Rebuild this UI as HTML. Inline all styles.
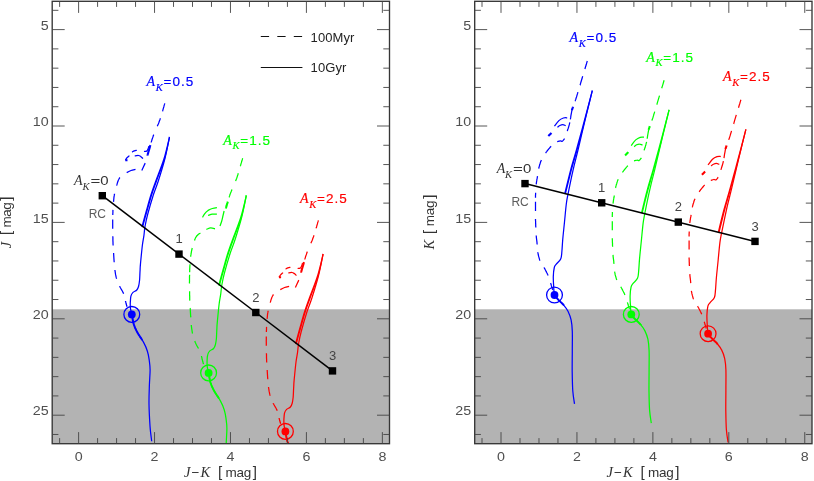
<!DOCTYPE html>
<html><head><meta charset="utf-8"><title>CMD</title>
<style>html,body{margin:0;padding:0;background:#fff;}svg{display:block;will-change:transform;}text{font-family:"Liberation Sans",sans-serif;}.it{font-family:"Liberation Serif",serif;font-style:italic;}</style></head><body>
<svg width="814" height="481" viewBox="0 0 814 481">
<rect x="0" y="0" width="814" height="481" fill="#fff"/>
<defs><clipPath id="cl"><rect x="52.2" y="1.3" width="337.3" height="442.4"/></clipPath><clipPath id="cr"><rect x="474.7" y="1.3" width="337.3" height="442.4"/></clipPath></defs>
<rect x="52.2" y="309.3" width="337.3" height="134.4" fill="#b3b3b3"/>
<g clip-path="url(#cl)" fill="none" stroke-width="1.25" stroke-linecap="butt" stroke-linejoin="round">
<g stroke="#0000ff">
<path d="M116.6,185.6L116.8,185.0L117.0,184.3L117.2,183.6L117.4,182.9L117.6,182.2L117.9,181.6L118.1,180.9L118.3,180.3L118.6,179.7L118.8,179.1L119.2,178.6L119.5,178.0L119.9,177.5L119.9,177.5M113.5,201.8L113.6,201.0L113.7,200.0L113.8,199.0L113.9,197.9L114.0,196.9L114.2,195.9L114.3,195.0L114.5,194.1L114.5,193.7M112.8,214.9L112.8,213.9L112.9,212.8L112.9,211.7L112.9,210.6L113.0,209.9M112.7,228.7L112.7,228.6L112.7,227.6L112.7,226.7L112.7,226.0L112.7,225.3L112.7,224.6L112.7,224.0L112.7,223.4L112.7,222.8L112.7,222.2L112.7,221.5L112.7,220.7L112.7,219.9L112.7,219.4M113.1,245.5L113.1,245.0L113.0,243.5L113.0,242.1L112.9,240.6L112.9,239.1L112.9,237.6L112.8,236.2M114.2,262.2L114.1,261.2L114.0,259.8L113.9,258.2L113.8,256.6L113.7,254.9L113.6,253.2L113.6,253.0M116.6,278.7L116.4,278.1L116.2,277.4L116.1,276.8L115.9,276.1L115.8,275.4L115.6,274.7L115.5,274.0L115.4,273.3L115.3,272.6L115.2,271.9L115.1,271.3L115.0,270.6L114.9,270.0L114.9,270.0M123.6,293.7L123.6,293.7L123.3,293.0L123.0,292.4L122.7,291.7L122.3,291.0L121.9,290.3L121.5,289.7L121.1,289.0L120.7,288.3L120.3,287.6L120.0,286.9L119.6,286.3L119.6,286.2M127.1,306.8L126.9,306.3L126.7,305.8L126.6,305.3L126.4,304.8L126.3,304.3L126.2,303.8L126.0,303.3L125.9,302.8L125.8,302.3L125.7,301.8L125.5,301.2L125.5,301.1M162.5,111.3L162.6,111.2L163.0,109.7L163.4,108.2L163.8,106.9L164.1,105.6L164.5,104.4L164.8,103.3L164.8,103.3M157.3,126.2L157.7,125.3L158.3,124.0L158.8,122.7L159.3,121.3L159.8,120.0L160.3,118.6L160.4,118.3M151.2,142.5L151.3,141.9L151.6,141.1L151.8,140.3L152.0,139.5L152.3,138.7L152.6,137.9L152.9,137.0L153.2,136.0L153.6,135.0L153.8,134.6M144.0,151.5C144.4,151.4 145.9,151.5 146.6,151.1C147.3,150.7 147.6,149.8 148.0,149.0C148.4,148.2 148.8,146.7 148.9,146.2M132.0,152.1C132.4,151.9 133.5,151.2 134.3,150.9C135.1,150.6 136.4,150.4 136.8,150.3M125.5,160.0C125.8,159.6 126.3,158.5 127.0,157.8C127.7,157.1 129.0,156.0 129.4,155.6M134.7,156.0C135.3,155.9 137.4,155.4 138.4,155.5C139.4,155.6 140.1,156.1 140.8,156.6C141.6,157.1 142.6,158.3 142.9,158.6M145.2,163.1C144.6,164.3 142.4,169.3 141.8,170.5M135.5,169.3C134.8,169.5 132.5,169.9 131.0,170.5C129.5,171.1 127.4,172.2 126.7,172.6"/>
<path d="M147.4,155.6L147.5,155.1L147.7,154.5L147.9,153.7L148.2,152.9L148.4,151.9L148.7,151.0L149.0,150.0L149.3,149.0L149.6,147.9L149.9,146.9L150.1,146.0L150.4,145.1L150.4,145.1M125.3,160.3C125.7,160.3 127.1,160.2 127.5,160.2" stroke-width="2.1"/>
<path d="M151.7,441.2C151.4,438.7 150.4,432.2 150.0,426.0C149.6,419.8 149.1,410.9 149.0,404.1C148.9,397.3 149.2,390.7 149.4,385.0C149.6,379.3 150.1,374.1 150.1,369.9C150.1,365.7 149.6,363.0 149.2,359.9C148.8,356.8 148.3,354.1 147.4,351.2C146.5,348.3 145.3,345.5 143.6,342.4C141.9,339.3 139.1,335.6 137.4,332.5C135.7,329.4 134.5,326.7 133.6,323.7C132.7,320.7 132.3,316.8 131.8,314.3C131.3,311.8 130.8,310.7 130.5,308.7C130.2,306.7 130.2,304.5 130.3,302.4C130.4,300.3 130.5,297.9 130.9,296.2C131.3,294.5 132.0,293.4 133.0,292.4C134.0,291.4 135.9,291.0 136.8,290.0C137.7,289.0 138.1,287.9 138.6,286.2C139.1,284.5 139.3,282.7 139.6,280.0C139.8,277.3 139.9,272.7 140.1,270.0C140.2,267.3 140.1,267.8 140.5,263.6C140.9,259.4 141.8,249.8 142.4,245.0C143.0,240.2 143.6,238.1 144.0,235.0C144.4,231.9 144.4,229.9 145.0,226.6C145.6,223.3 146.1,220.3 147.5,215.0C148.9,209.7 151.5,200.7 153.3,195.0C155.1,189.3 156.4,187.0 158.3,181.0C160.2,175.0 162.9,166.3 164.8,159.0C166.7,151.7 168.7,140.7 169.5,137.0"/>
<path d="M142.2,340.0L142.2,340.0L141.6,339.1L141.1,338.3L140.5,337.4L139.9,336.6L139.4,335.8L138.8,334.9L138.3,334.1L137.8,333.3L137.4,332.5L137.0,331.7L136.6,331.0L136.2,330.2L135.9,329.5L135.5,328.8L135.2,328.1L134.9,327.4L134.6,326.6L134.4,325.9L134.1,325.2L133.8,324.5L133.6,323.7L133.4,322.9L133.2,322.1L133.0,321.3L132.8,320.5L132.7,319.6L132.5,318.8L132.4,318.0" stroke-width="1.9"/>
<path d="M141.9,227.0C142.6,224.3 144.8,216.3 146.3,211.0C147.8,205.7 149.3,200.0 150.9,195.0C152.5,190.0 153.6,187.0 155.8,181.0C158.0,175.0 161.6,166.3 163.9,159.0C166.2,151.7 168.6,140.7 169.5,137.0 M142.6,227.0C143.3,224.3 145.5,216.3 147.0,211.0C148.5,205.7 150.0,200.0 151.6,195.0C153.2,190.0 154.4,187.0 156.5,181.0C158.6,175.0 162.2,166.3 164.4,159.0C166.6,151.7 168.7,140.7 169.5,137.0" stroke-width="1.2"/>
<circle cx="131.8" cy="314.4" r="7.9" stroke-width="1.3"/>
<circle cx="131.8" cy="314.4" r="3.9" fill="#0000ff" stroke="none"/>
</g>
<g stroke="#00ff00">
<path d="M194.5,240.5L194.7,240.1L194.9,239.4L195.1,238.8L195.4,238.2L195.6,237.6L196.0,237.1L196.3,236.5L196.7,236.0L197.2,235.5L197.7,235.0L198.2,234.5L198.8,234.1L199.4,233.6L200.1,233.2L200.4,233.0M190.7,256.7L190.7,256.4L190.8,255.4L191.0,254.4L191.1,253.5L191.3,252.6L191.4,251.7L191.6,250.8L191.8,249.9L192.0,249.0L192.2,248.2L192.3,248.0M189.6,272.3L189.7,271.3L189.7,270.2L189.7,269.1L189.8,268.0L189.8,267.0L189.9,265.9L190.0,264.9L190.0,264.2M189.5,283.5L189.5,283.1L189.4,282.5L189.5,281.9L189.5,281.3L189.5,280.7L189.5,280.0L189.5,279.2L189.5,278.4L189.5,277.5L189.5,276.5L189.6,275.5L189.6,274.8M189.8,300.6L189.8,300.6L189.7,299.1L189.7,297.6L189.7,296.1L189.6,294.7L189.6,293.3L189.6,291.9L189.6,291.3M190.8,317.3L190.7,316.7L190.6,315.1L190.5,313.4L190.4,311.7L190.3,310.0L190.2,308.3L190.1,308.1M192.5,333.6L192.4,333.2L192.3,332.5L192.2,331.8L192.1,331.1L192.0,330.4L191.9,329.8L191.8,329.1L191.7,328.5L191.6,327.9L191.6,327.5L191.5,327.1L191.5,326.7L191.4,326.3L191.4,326.0L191.3,325.5L191.3,325.1L191.3,324.9M198.5,348.5L198.3,348.2L197.9,347.5L197.5,346.8L197.1,346.1L196.8,345.4L196.4,344.8L196.1,344.1L195.8,343.5L195.5,342.8L195.2,342.2L195.0,341.6L194.8,341.1M203.5,364.1L203.4,363.8L203.2,363.3L203.1,362.8L203.0,362.3L202.8,361.8L202.7,361.3L202.6,360.8L202.5,360.3L202.3,359.7L202.1,359.1L202.0,358.5L201.9,357.9L201.8,357.3L201.6,356.7L201.5,356.1L201.5,356.0M240.3,166.2L240.6,165.4L240.9,164.1L241.3,162.9L241.6,161.8L241.9,160.8L242.2,160.0L242.4,159.1L242.6,158.4L242.7,158.2M235.6,181.1L236.1,179.8L236.6,178.5L237.1,177.1L237.5,175.7L238.0,174.2L238.3,173.2M229.0,197.4L229.1,197.2L229.4,196.4L229.7,195.5L230.0,194.5L230.4,193.5L230.8,192.4L231.3,191.3L231.8,190.1L232.0,189.5M224.1,211.0C223.9,211.9 223.2,214.8 222.8,216.5C222.4,218.2 222.1,219.9 221.6,221.5C221.1,223.1 220.3,225.2 220.0,226.0M202.5,217.3C202.9,216.7 203.9,214.7 204.8,213.5C205.7,212.3 206.9,211.2 208.1,210.4C209.4,209.6 210.8,208.9 212.3,208.5C213.8,208.1 216.1,207.8 216.9,207.7M208.1,215.4C208.8,215.2 210.8,214.3 212.3,214.1C213.8,213.9 216.1,214.2 216.9,214.2M206.3,229.4C207.0,229.2 209.2,228.0 210.6,227.9C212.1,227.8 214.3,228.7 215.0,228.9"/>
<path d="M225.8,208.5L225.8,208.5L226.1,207.5L226.4,206.4L226.7,205.4L226.9,204.5L227.2,203.6L227.5,202.8L227.7,202.0L227.8,201.7" stroke-width="2.1"/>
<path d="M228.5,499.7C228.2,497.2 227.2,490.7 226.8,484.5C226.4,478.3 225.9,469.4 225.8,462.6C225.7,455.8 226.0,449.2 226.2,443.5C226.4,437.8 226.9,432.6 226.9,428.4C226.9,424.2 226.4,421.5 226.0,418.4C225.6,415.3 225.1,412.6 224.2,409.7C223.3,406.8 222.1,404.0 220.4,400.9C218.7,397.8 215.9,394.1 214.2,391.0C212.5,387.9 211.3,385.2 210.4,382.2C209.5,379.2 209.1,375.3 208.6,372.8C208.1,370.3 207.6,369.2 207.3,367.2C207.1,365.2 207.0,363.0 207.1,360.9C207.2,358.8 207.2,356.4 207.7,354.7C208.1,353.0 208.8,351.9 209.8,350.9C210.8,349.9 212.7,349.5 213.6,348.5C214.5,347.5 214.9,346.4 215.4,344.7C215.9,343.0 216.1,341.2 216.4,338.5C216.6,335.8 216.7,331.2 216.9,328.5C217.0,325.8 216.9,326.3 217.3,322.1C217.7,317.9 218.6,308.3 219.2,303.5C219.8,298.7 220.4,296.6 220.8,293.5C221.2,290.4 221.2,288.4 221.8,285.1C222.4,281.8 222.9,278.8 224.3,273.5C225.7,268.2 228.3,259.2 230.1,253.5C231.9,247.8 233.2,245.5 235.1,239.5C237.0,233.5 239.7,224.8 241.6,217.5C243.5,210.2 245.5,199.2 246.3,195.5"/>
<path d="M219.0,398.5L219.0,398.5L218.4,397.6L217.9,396.8L217.3,395.9L216.7,395.1L216.2,394.3L215.6,393.4L215.1,392.6L214.6,391.8L214.2,391.0L213.8,390.2L213.4,389.5L213.0,388.7L212.7,388.0L212.3,387.3L212.0,386.6L211.7,385.9L211.4,385.1L211.2,384.4L210.9,383.7L210.6,383.0L210.4,382.2L210.2,381.4L210.0,380.6L209.8,379.8L209.6,379.0L209.5,378.1L209.3,377.3L209.2,376.5" stroke-width="1.9"/>
<path d="M218.7,285.5C219.4,282.8 221.6,274.8 223.1,269.5C224.6,264.2 226.1,258.5 227.7,253.5C229.3,248.5 230.4,245.5 232.6,239.5C234.8,233.5 238.4,224.8 240.7,217.5C243.0,210.2 245.4,199.2 246.3,195.5 M219.4,285.5C220.1,282.8 222.3,274.8 223.8,269.5C225.3,264.2 226.8,258.5 228.4,253.5C230.0,248.5 231.2,245.5 233.3,239.5C235.4,233.5 239.0,224.8 241.2,217.5C243.4,210.2 245.5,199.2 246.3,195.5" stroke-width="1.2"/>
<circle cx="208.6" cy="372.9" r="7.9" stroke-width="1.3"/>
<circle cx="208.6" cy="372.9" r="3.9" fill="#00ff00" stroke="none"/>
</g>
<g stroke="#ff0000">
<path d="M270.2,302.6L270.4,302.0L270.6,301.3L270.8,300.6L271.0,299.9L271.2,299.2L271.5,298.6L271.7,297.9L271.9,297.3L272.2,296.7L272.4,296.1L272.8,295.6L273.1,295.0L273.5,294.5L273.5,294.5M267.1,318.8L267.2,318.0L267.3,317.0L267.4,316.0L267.5,314.9L267.6,313.9L267.8,312.9L267.9,312.0L268.1,311.1L268.1,310.7M266.4,331.9L266.4,330.9L266.5,329.8L266.5,328.7L266.5,327.6L266.6,326.9M266.3,345.7L266.3,345.6L266.3,344.6L266.3,343.7L266.3,343.0L266.3,342.3L266.3,341.6L266.2,341.0L266.3,340.4L266.3,339.8L266.3,339.2L266.3,338.5L266.3,337.7L266.3,336.9L266.3,336.4M266.7,362.5L266.7,362.0L266.6,360.5L266.6,359.1L266.5,357.6L266.5,356.1L266.5,354.6L266.4,353.2M267.8,379.2L267.7,378.2L267.6,376.8L267.5,375.2L267.4,373.6L267.3,371.9L267.2,370.2L267.2,370.0M270.2,395.7L270.0,395.1L269.8,394.4L269.7,393.8L269.5,393.1L269.4,392.4L269.2,391.7L269.1,391.0L269.0,390.3L268.9,389.6L268.8,388.9L268.7,388.3L268.6,387.6L268.5,387.0L268.5,387.0M277.2,410.7L277.2,410.7L276.9,410.0L276.6,409.4L276.3,408.7L275.9,408.0L275.5,407.3L275.1,406.7L274.7,406.0L274.3,405.3L273.9,404.6L273.6,403.9L273.2,403.3L273.2,403.2M280.7,423.8L280.5,423.3L280.3,422.8L280.2,422.3L280.0,421.8L279.9,421.3L279.8,420.8L279.6,420.3L279.5,419.8L279.4,419.3L279.3,418.8L279.1,418.2L279.1,418.1M316.1,228.3L316.1,228.2L316.6,226.7L317.0,225.2L317.4,223.9L317.7,222.6L318.1,221.4L318.4,220.3L318.4,220.3M310.9,243.2L311.3,242.3L311.9,241.0L312.4,239.7L312.9,238.3L313.4,237.0L313.9,235.6L314.0,235.3M304.8,259.5L304.9,258.9L305.2,258.1L305.4,257.3L305.6,256.5L305.9,255.7L306.2,254.9L306.5,254.0L306.8,253.0L307.2,252.0L307.4,251.6M297.6,268.5C298.0,268.4 299.5,268.5 300.2,268.1C300.9,267.7 301.2,266.8 301.6,266.0C302.0,265.2 302.4,263.7 302.5,263.2M285.6,269.1C286.0,268.9 287.1,268.2 287.9,267.9C288.7,267.6 290.0,267.4 290.4,267.3M279.1,277.0C279.4,276.6 280.0,275.5 280.6,274.8C281.2,274.1 282.6,273.0 283.0,272.6M288.3,273.0C288.9,272.9 291.0,272.4 292.0,272.5C293.0,272.6 293.6,273.1 294.4,273.6C295.1,274.1 296.1,275.3 296.5,275.6M298.8,280.1C298.2,281.3 296.0,286.3 295.4,287.5M289.1,286.3C288.4,286.5 286.1,286.9 284.6,287.5C283.1,288.1 281.0,289.2 280.3,289.6"/>
<path d="M301.0,272.6L301.1,272.1L301.3,271.5L301.5,270.7L301.8,269.9L302.0,268.9L302.3,268.0L302.6,267.0L302.9,266.0L303.2,264.9L303.5,263.9L303.7,263.0L304.0,262.1L304.0,262.1M278.9,277.3C279.3,277.3 280.7,277.2 281.1,277.2" stroke-width="2.1"/>
<path d="M305.3,558.2C305.0,555.7 304.1,549.2 303.6,543.0C303.2,536.8 302.7,527.9 302.6,521.1C302.5,514.3 302.8,507.7 303.0,502.0C303.2,496.3 303.7,491.1 303.7,486.9C303.7,482.7 303.2,480.0 302.8,476.9C302.3,473.8 301.9,471.1 301.0,468.2C300.1,465.3 298.9,462.5 297.2,459.4C295.5,456.3 292.7,452.6 291.0,449.5C289.3,446.4 288.1,443.7 287.2,440.7C286.3,437.7 285.9,433.8 285.4,431.3C284.9,428.8 284.4,427.7 284.1,425.7C283.9,423.7 283.8,421.5 283.9,419.4C284.0,417.3 284.1,414.9 284.5,413.2C284.9,411.5 285.6,410.4 286.6,409.4C287.6,408.4 289.5,408.0 290.4,407.0C291.3,406.0 291.7,404.9 292.2,403.2C292.7,401.5 292.9,399.7 293.2,397.0C293.4,394.3 293.5,389.7 293.7,387.0C293.9,384.3 293.7,384.8 294.1,380.6C294.5,376.4 295.4,366.8 296.0,362.0C296.6,357.2 297.2,355.1 297.6,352.0C298.0,348.9 298.0,346.9 298.6,343.6C299.2,340.3 299.7,337.3 301.1,332.0C302.5,326.7 305.1,317.7 306.9,312.0C308.7,306.3 310.0,304.0 311.9,298.0C313.8,292.0 316.5,283.3 318.4,276.0C320.3,268.7 322.3,257.7 323.1,254.0"/>
<path d="M295.8,457.0L295.8,457.0L295.2,456.1L294.7,455.3L294.1,454.4L293.5,453.6L293.0,452.8L292.4,451.9L291.9,451.1L291.4,450.3L291.0,449.5L290.6,448.7L290.2,448.0L289.8,447.2L289.5,446.5L289.1,445.8L288.8,445.1L288.5,444.4L288.2,443.6L288.0,442.9L287.7,442.2L287.4,441.5L287.2,440.7L287.0,439.9L286.8,439.1L286.6,438.3L286.4,437.5L286.3,436.6L286.1,435.8L286.0,435.0" stroke-width="1.9"/>
<path d="M295.5,344.0C296.2,341.3 298.4,333.3 299.9,328.0C301.4,322.7 302.9,317.0 304.5,312.0C306.1,307.0 307.2,304.0 309.4,298.0C311.6,292.0 315.2,283.3 317.5,276.0C319.8,268.7 322.2,257.7 323.1,254.0 M296.2,344.0C296.9,341.3 299.1,333.3 300.6,328.0C302.1,322.7 303.6,317.0 305.2,312.0C306.8,307.0 308.0,304.0 310.1,298.0C312.2,292.0 315.8,283.3 318.0,276.0C320.2,268.7 322.2,257.7 323.1,254.0" stroke-width="1.2"/>
<circle cx="285.4" cy="431.4" r="7.9" stroke-width="1.3"/>
<circle cx="285.4" cy="431.4" r="3.9" fill="#ff0000" stroke="none"/>
</g>
</g>
<path d="M102.3,195.7 L332.5,370.9" stroke="#000" stroke-width="1.5" fill="none"/>
<rect x="98.6" y="192.0" width="7.4" height="7.4" fill="#000"/>
<rect x="175.3" y="250.4" width="7.4" height="7.4" fill="#000"/>
<text x="179.0" y="243.4" font-size="13" fill="#444" text-anchor="middle">1</text>
<rect x="252.1" y="308.8" width="7.4" height="7.4" fill="#000"/>
<text x="255.8" y="301.8" font-size="13" fill="#444" text-anchor="middle">2</text>
<rect x="328.8" y="367.2" width="7.4" height="7.4" fill="#000"/>
<text x="332.5" y="360.2" font-size="13" fill="#444" text-anchor="middle">3</text>
<text y="185.0" font-size="13" fill="#333"><tspan class="it" font-size="14" x="74.0">A</tspan><tspan class="it" font-size="10.5" x="82.4" dy="4.6">K</tspan></text>
<text transform="translate(90.4,185.0) scale(1.3,1)" font-size="13" fill="#333">=</text>
<text transform="translate(100.3,185.0) scale(1.15,1)" font-size="13" fill="#333">0</text>
<text x="88.7" y="217.9" font-size="12" fill="#5c5c5c">RC</text>
<rect x="52.2" y="1.3" width="337.3" height="442.4" fill="none" stroke="#363636" stroke-width="1.35"/>
<path d="M59.61,1.3v5.6M59.61,443.7v-5.6M78.60,1.3v11.6M78.60,443.7v-11.6M97.58,1.3v5.6M97.58,443.7v-5.6M116.57,1.3v5.6M116.57,443.7v-5.6M135.56,1.3v5.6M135.56,443.7v-5.6M154.54,1.3v11.6M154.54,443.7v-11.6M173.52,1.3v5.6M173.52,443.7v-5.6M192.51,1.3v5.6M192.51,443.7v-5.6M211.49,1.3v5.6M211.49,443.7v-5.6M230.48,1.3v11.6M230.48,443.7v-11.6M249.47,1.3v5.6M249.47,443.7v-5.6M268.45,1.3v5.6M268.45,443.7v-5.6M287.43,1.3v5.6M287.43,443.7v-5.6M306.42,1.3v11.6M306.42,443.7v-11.6M325.40,1.3v5.6M325.40,443.7v-5.6M344.39,1.3v5.6M344.39,443.7v-5.6M363.38,1.3v5.6M363.38,443.7v-5.6M382.36,1.3v11.6M382.36,443.7v-11.6M52.2,10.32h6.2M389.5,10.32h-6.2M52.2,29.60h12.5M389.5,29.60h-12.5M52.2,48.88h6.2M389.5,48.88h-6.2M52.2,68.16h6.2M389.5,68.16h-6.2M52.2,87.44h6.2M389.5,87.44h-6.2M52.2,106.72h6.2M389.5,106.72h-6.2M52.2,126.00h12.5M389.5,126.00h-12.5M52.2,145.28h6.2M389.5,145.28h-6.2M52.2,164.56h6.2M389.5,164.56h-6.2M52.2,183.84h6.2M389.5,183.84h-6.2M52.2,203.12h6.2M389.5,203.12h-6.2M52.2,222.40h12.5M389.5,222.40h-12.5M52.2,241.68h6.2M389.5,241.68h-6.2M52.2,260.96h6.2M389.5,260.96h-6.2M52.2,280.24h6.2M389.5,280.24h-6.2M52.2,299.52h6.2M389.5,299.52h-6.2M52.2,318.80h12.5M389.5,318.80h-12.5M52.2,338.08h6.2M389.5,338.08h-6.2M52.2,357.36h6.2M389.5,357.36h-6.2M52.2,376.64h6.2M389.5,376.64h-6.2M52.2,395.92h6.2M389.5,395.92h-6.2M52.2,415.20h12.5M389.5,415.20h-12.5M52.2,434.48h6.2M389.5,434.48h-6.2" stroke="#444" stroke-width="0.9" fill="none"/>
<text transform="translate(78.6,460.8) scale(1.1,1)" font-size="13" fill="#505050" text-anchor="middle">0</text>
<text transform="translate(154.5,460.8) scale(1.1,1)" font-size="13" fill="#505050" text-anchor="middle">2</text>
<text transform="translate(230.5,460.8) scale(1.1,1)" font-size="13" fill="#505050" text-anchor="middle">4</text>
<text transform="translate(306.4,460.8) scale(1.1,1)" font-size="13" fill="#505050" text-anchor="middle">6</text>
<text transform="translate(382.4,460.8) scale(1.1,1)" font-size="13" fill="#505050" text-anchor="middle">8</text>
<text transform="translate(48.6,29.8) scale(1.1,1)" font-size="13" fill="#505050" text-anchor="end">5</text>
<text transform="translate(48.6,126.2) scale(1.1,1)" font-size="13" fill="#505050" text-anchor="end">10</text>
<text transform="translate(48.6,222.6) scale(1.1,1)" font-size="13" fill="#505050" text-anchor="end">15</text>
<text transform="translate(48.6,319.0) scale(1.1,1)" font-size="13" fill="#505050" text-anchor="end">20</text>
<text transform="translate(48.6,415.4) scale(1.1,1)" font-size="13" fill="#505050" text-anchor="end">25</text>
<text y="476.8" font-size="13.5" fill="#333"><tspan class="it" font-size="14.5" x="184.1">J</tspan><tspan x="191.4">−</tspan><tspan class="it" font-size="14.5" x="200.4">K</tspan><tspan font-size="15.2" x="217.9">[</tspan><tspan x="225.5" textLength="25.7" lengthAdjust="spacing">mag</tspan><tspan font-size="15.2" x="252.8">]</tspan></text>
<text transform="translate(11.3,222.6) rotate(-90)" font-size="13.5" fill="#333"><tspan class="it" font-size="14.5" x="-25.6">J</tspan><tspan font-size="15.2" x="-12.3">[</tspan><tspan x="-4.8" textLength="25.2" lengthAdjust="spacing">mag</tspan><tspan font-size="15.2" x="21.8">]</tspan></text>
<rect x="474.7" y="309.3" width="337.3" height="134.4" fill="#b3b3b3"/>
<g clip-path="url(#cr)" fill="none" stroke-width="1.25" stroke-linecap="butt" stroke-linejoin="round">
<g stroke="#0000ff">
<path d="M545.6,153.1L545.6,153.1L546.0,152.5L546.4,151.9L546.9,151.3L547.3,150.7L547.8,150.1L548.3,149.5L548.8,148.9L549.3,148.3L549.7,147.8L550.2,147.2L550.7,146.7L551.1,146.3M538.7,168.7L538.7,168.7L538.9,168.0L539.0,167.3L539.2,166.6L539.4,165.8L539.6,165.1L539.9,164.3L540.1,163.6L540.3,162.8L540.6,162.1L540.8,161.4L541.1,160.7L541.4,160.0L541.4,160.0M536.2,184.3L536.2,184.3L536.3,183.6L536.4,182.9L536.5,182.2L536.6,181.5L536.7,180.9L536.8,180.2L536.9,179.5L537.0,178.8L537.2,178.2L537.3,177.5L537.4,176.9L537.5,176.2L537.5,176.2M535.5,197.7L535.5,197.4L535.5,196.6L535.5,195.9L535.5,195.2L535.6,194.5L535.6,193.7L535.6,193.0L535.6,192.7M535.5,210.9L535.5,210.9L535.5,210.2L535.5,209.4L535.5,208.7L535.5,207.9L535.5,207.2L535.5,206.4L535.5,205.6L535.5,204.9L535.5,204.1L535.5,203.3L535.5,202.6L535.5,201.8L535.5,201.8M535.8,227.4L535.8,227.4L535.8,226.7L535.7,226.0L535.7,225.3L535.7,224.6L535.7,223.9L535.6,223.1L535.6,222.4L535.6,221.7L535.6,221.0L535.5,220.3L535.5,219.6L535.5,218.9L535.5,218.9M537.2,244.5L537.2,244.5L537.1,243.8L537.0,243.1L537.0,242.3L536.9,241.6L536.8,240.8L536.7,240.0L536.6,239.3L536.5,238.5L536.4,237.7L536.3,237.0L536.3,236.2L536.2,235.5L536.2,235.5M540.0,260.6L540.0,260.6L539.7,260.0L539.5,259.3L539.3,258.6L539.1,257.9L538.9,257.2L538.7,256.5L538.5,255.7L538.3,255.0L538.2,254.3L538.1,253.6L537.9,252.9L537.8,252.2L537.8,252.2M548.1,275.5L548.1,275.5L547.8,274.8L547.5,274.2L547.2,273.5L546.8,272.8L546.5,272.1L546.1,271.4L545.8,270.7L545.4,270.0L545.1,269.3L544.7,268.7L544.3,268.0L544.0,267.4L544.0,267.4M552.7,289.9L552.7,289.9L552.5,289.4L552.4,288.9L552.2,288.3L552.0,287.8L551.9,287.2L551.7,286.6L551.5,286.0L551.3,285.4L551.2,284.8L551.0,284.2L550.8,283.6L550.6,283.0L550.6,283.0M584.9,69.0L585.4,67.3L586.2,64.8L586.8,62.7L587.3,61.0L587.3,61.0M580.0,85.2L580.1,85.1L580.9,82.2L581.8,79.2L582.7,76.2M575.1,101.2L575.1,101.2L575.4,100.4L575.6,99.7L575.8,99.2L575.9,98.7L576.1,98.3L576.2,97.9L576.3,97.5L576.5,97.0L576.7,96.3L576.9,95.6L577.2,94.6L577.6,93.4L577.9,92.2M570.4,119.4L570.5,118.5L570.7,117.4L570.8,116.3L571.0,115.2L571.2,114.1L571.4,113.1L571.6,112.0L571.8,111.0L572.0,110.1L572.0,110.0M567.3,131.1L567.3,131.1L567.5,130.4L567.7,129.8L567.9,129.1L568.2,128.4L568.4,127.7L568.6,127.1L568.8,126.3L569.0,125.6L569.2,124.9L569.4,124.1L569.6,123.3L569.8,122.4L569.8,122.4M557.2,141.6C557.7,141.5 559.3,140.9 560.2,140.8C561.1,140.7 561.7,141.6 562.4,141.2C563.1,140.8 564.2,139.0 564.6,138.6M567.2,117.8C566.6,117.8 564.8,117.5 563.4,118.0C562.0,118.5 560.4,119.2 558.9,120.6C557.4,122.0 555.1,125.3 554.4,126.2M565.7,125.7C565.2,125.5 563.7,124.7 562.7,124.7C561.7,124.7 560.7,125.1 559.8,125.5C558.9,125.9 557.8,127.0 557.4,127.3"/>
<path d="M572.0,110.3L572.0,110.1L572.2,109.2L572.5,108.3L572.8,107.5L573.0,106.8M551.5,132.9C551.0,133.4 548.8,135.6 548.3,136.1" stroke-width="2.1"/>
<path d="M574.5,403.8C574.2,401.7 573.2,396.3 572.8,391.0C572.4,385.7 572.3,378.9 572.2,372.0C572.1,365.1 572.3,356.7 572.3,349.9C572.3,343.1 572.5,336.1 572.3,331.1C572.1,326.1 571.8,323.2 571.1,319.9C570.4,316.6 569.2,313.7 568.0,311.2C566.8,308.7 565.3,307.0 563.6,305.0C561.9,303.0 559.5,301.1 558.0,299.4C556.5,297.7 555.2,297.0 554.5,294.9C553.8,292.8 553.9,290.1 553.7,287.0C553.5,283.9 553.2,279.8 553.3,276.5C553.4,273.2 553.8,269.6 554.3,267.5C554.8,265.4 555.4,265.4 556.5,263.9C557.6,262.4 559.9,260.8 560.8,258.7C561.7,256.6 561.6,254.3 561.9,251.2C562.2,248.1 562.3,244.9 562.7,240.0C563.1,235.1 563.9,228.0 564.5,222.0C565.1,216.0 565.7,208.7 566.3,204.0C566.9,199.3 567.0,199.2 568.1,193.7C569.2,188.2 571.2,178.1 572.9,170.8C574.5,163.5 576.0,158.3 578.0,150.0C580.0,141.7 583.0,128.5 584.8,121.2C586.5,113.9 587.2,111.1 588.5,106.0C589.8,100.9 591.7,93.2 592.3,90.6"/>
<path d="M564.0,305.5L564.0,305.5L563.6,305.0L563.2,304.5L562.7,304.0L562.2,303.5L561.7,303.0L561.2,302.6L560.7,302.1L560.2,301.6L559.8,301.2L559.3,300.7L558.8,300.3L558.4,299.8L558.0,299.4L557.6,299.0L557.3,298.6L556.9,298.3L556.6,297.9L556.3,297.6L556.1,297.5" stroke-width="1.9"/>
<path d="M564.7,193.7C565.7,189.9 568.5,178.1 570.4,170.8C572.3,163.5 574.1,158.3 576.4,150.0C578.7,141.7 581.6,131.1 584.2,121.2C586.9,111.3 590.9,95.7 592.3,90.6 M565.4,193.7C566.4,189.9 569.2,178.1 571.1,170.8C573.0,163.5 574.8,158.3 577.0,150.0C579.2,141.7 582.1,131.1 584.6,121.2C587.1,111.3 591.0,95.7 592.3,90.6" stroke-width="1.2"/>
<circle cx="554.5" cy="295.0" r="7.9" stroke-width="1.3"/>
<circle cx="554.5" cy="295.0" r="3.9" fill="#0000ff" stroke="none"/>
</g>
<g stroke="#00ff00">
<path d="M622.4,172.4L622.4,172.4L622.8,171.9L623.2,171.3L623.7,170.7L624.1,170.1L624.6,169.5L625.1,168.9L625.6,168.3L626.1,167.7L626.5,167.1L627.0,166.6L627.5,166.0L627.9,165.7M615.5,188.0L615.5,188.0L615.7,187.4L615.8,186.6L616.0,185.9L616.2,185.2L616.4,184.4L616.7,183.7L616.9,182.9L617.1,182.2L617.4,181.4L617.6,180.7L617.9,180.0L618.2,179.3L618.2,179.3M613.0,203.7L613.0,203.7L613.1,203.0L613.2,202.3L613.3,201.6L613.4,200.9L613.5,200.2L613.6,199.5L613.7,198.9L613.8,198.2L614.0,197.5L614.1,196.9L614.2,196.2L614.3,195.5L614.3,195.5M612.3,217.0L612.3,216.7L612.3,216.0L612.3,215.3L612.3,214.5L612.4,213.8L612.4,213.1L612.4,212.3L612.4,212.0M612.3,230.2L612.3,230.2L612.3,229.5L612.3,228.8L612.3,228.0L612.3,227.3L612.3,226.5L612.3,225.8L612.3,225.0L612.3,224.2L612.3,223.4L612.3,222.7L612.3,221.9L612.3,221.2L612.3,221.2M612.6,246.8L612.6,246.8L612.6,246.1L612.5,245.4L612.5,244.6L612.5,243.9L612.5,243.2L612.4,242.5L612.4,241.8L612.4,241.1L612.4,240.3L612.3,239.6L612.3,238.9L612.3,238.2L612.3,238.2M614.0,263.9L614.0,263.9L613.9,263.1L613.8,262.4L613.8,261.7L613.7,260.9L613.6,260.1L613.5,259.4L613.4,258.6L613.3,257.8L613.2,257.1L613.1,256.3L613.1,255.6L613.0,254.8L613.0,254.8M616.8,280.0L616.8,280.0L616.5,279.3L616.3,278.6L616.1,277.9L615.9,277.2L615.7,276.5L615.5,275.8L615.3,275.1L615.1,274.4L615.0,273.6L614.9,272.9L614.7,272.2L614.6,271.6L614.6,271.6M624.9,294.9L624.9,294.9L624.6,294.2L624.3,293.5L624.0,292.8L623.6,292.1L623.3,291.5L622.9,290.8L622.6,290.1L622.2,289.4L621.9,288.7L621.5,288.0L621.1,287.4L620.8,286.8L620.8,286.8M629.5,309.2L629.5,309.2L629.3,308.7L629.2,308.2L629.0,307.7L628.8,307.1L628.7,306.5L628.5,306.0L628.3,305.4L628.1,304.8L628.0,304.2L627.8,303.6L627.6,303.0L627.4,302.4L627.4,302.4M661.7,88.3L662.2,86.6L663.0,84.1L663.6,82.0L664.1,80.3L664.1,80.3M656.8,104.6L656.9,104.4L657.7,101.6L658.6,98.6L659.5,95.6M651.9,120.6L651.9,120.5L652.2,119.8L652.4,119.1L652.6,118.5L652.7,118.1L652.9,117.7L653.0,117.3L653.1,116.8L653.3,116.3L653.5,115.7L653.7,114.9L654.0,113.9L654.4,112.7L654.7,111.6M647.2,138.8L647.3,137.8L647.5,136.7L647.6,135.7L647.8,134.6L648.0,133.5L648.2,132.4L648.4,131.4L648.6,130.4L648.8,129.4L648.8,129.3M644.1,150.4L644.1,150.4L644.3,149.8L644.5,149.1L644.7,148.4L645.0,147.8L645.2,147.1L645.4,146.4L645.6,145.7L645.8,145.0L646.0,144.2L646.2,143.4L646.4,142.6L646.6,141.8L646.6,141.8M634.0,160.9C634.5,160.8 636.1,160.2 637.0,160.2C637.9,160.1 638.5,160.9 639.2,160.5C639.9,160.2 641.0,158.4 641.4,157.9M644.0,137.2C643.4,137.2 641.6,136.9 640.2,137.3C638.8,137.8 637.2,138.6 635.7,139.9C634.2,141.3 631.9,144.6 631.2,145.6M642.5,145.1C642.0,144.9 640.5,144.1 639.5,144.1C638.5,144.0 637.5,144.4 636.6,144.8C635.7,145.3 634.6,146.3 634.2,146.7"/>
<path d="M648.8,129.7L648.8,129.4L649.0,128.5L649.3,127.7L649.6,126.8L649.8,126.2M628.3,152.2C627.8,152.8 625.6,154.9 625.1,155.4" stroke-width="2.1"/>
<path d="M651.3,423.2C651.0,421.0 650.0,415.7 649.6,410.4C649.2,405.1 649.1,398.2 649.0,391.4C648.9,384.5 649.1,376.1 649.1,369.2C649.1,362.4 649.3,355.5 649.1,350.5C648.9,345.5 648.6,342.6 647.9,339.2C647.2,335.9 646.0,333.0 644.8,330.6C643.5,328.1 642.1,326.3 640.4,324.4C638.7,322.4 636.3,320.4 634.8,318.8C633.3,317.1 632.0,316.3 631.3,314.2C630.6,312.2 630.7,309.4 630.5,306.4C630.3,303.3 630.0,299.1 630.1,295.9C630.2,292.6 630.6,289.0 631.1,286.9C631.6,284.8 632.2,284.7 633.3,283.2C634.4,281.8 636.7,280.2 637.6,278.1C638.5,275.9 638.4,273.7 638.7,270.6C639.0,267.4 639.1,264.2 639.5,259.4C639.9,254.5 640.7,247.3 641.3,241.3C641.9,235.3 642.5,228.1 643.1,223.3C643.7,218.6 643.8,218.6 644.9,213.0C646.0,207.5 648.0,197.4 649.7,190.2C651.3,182.9 652.8,177.6 654.8,169.3C656.8,161.1 659.8,147.9 661.6,140.6C663.3,133.2 664.0,130.4 665.3,125.3C666.5,120.2 668.5,112.5 669.1,109.9"/>
<path d="M640.8,324.9L640.8,324.8L640.4,324.4L640.0,323.9L639.5,323.4L639.0,322.9L638.5,322.4L638.0,321.9L637.5,321.4L637.0,321.0L636.6,320.5L636.1,320.1L635.6,319.6L635.2,319.2L634.8,318.8L634.4,318.3L634.1,318.0L633.7,317.6L633.4,317.3L633.1,317.0L632.9,316.9" stroke-width="1.9"/>
<path d="M641.5,213.0C642.5,209.2 645.2,197.4 647.2,190.2C649.1,182.9 650.9,177.6 653.2,169.3C655.5,161.1 658.4,150.5 661.0,140.6C663.6,130.7 667.7,115.0 669.1,109.9 M642.2,213.0C643.1,209.2 646.0,197.4 647.9,190.2C649.8,182.9 651.5,177.6 653.8,169.3C656.0,161.1 658.9,150.5 661.4,140.6C663.9,130.7 667.8,115.0 669.1,109.9" stroke-width="1.2"/>
<circle cx="631.3" cy="314.4" r="7.9" stroke-width="1.3"/>
<circle cx="631.3" cy="314.4" r="3.9" fill="#00ff00" stroke="none"/>
</g>
<g stroke="#ff0000">
<path d="M699.2,191.8L699.2,191.8L699.6,191.2L700.0,190.6L700.5,190.0L700.9,189.4L701.4,188.8L701.9,188.2L702.4,187.6L702.9,187.0L703.3,186.5L703.8,185.9L704.3,185.4L704.7,185.0M692.3,207.4L692.3,207.4L692.5,206.7L692.6,206.0L692.8,205.3L693.0,204.5L693.2,203.8L693.5,203.0L693.7,202.3L693.9,201.5L694.2,200.8L694.4,200.1L694.7,199.4L695.0,198.7L695.0,198.7M689.8,223.0L689.8,223.0L689.9,222.3L690.0,221.6L690.1,220.9L690.2,220.2L690.3,219.6L690.4,218.9L690.5,218.2L690.6,217.5L690.8,216.9L690.9,216.2L691.0,215.6L691.1,214.9L691.1,214.9M689.1,236.4L689.1,236.1L689.1,235.3L689.1,234.6L689.1,233.9L689.2,233.2L689.2,232.4L689.2,231.7L689.2,231.4M689.1,249.6L689.1,249.6L689.1,248.9L689.1,248.1L689.1,247.4L689.1,246.6L689.1,245.9L689.1,245.1L689.1,244.3L689.1,243.6L689.1,242.8L689.1,242.0L689.1,241.3L689.1,240.5L689.1,240.5M689.4,266.1L689.4,266.1L689.4,265.4L689.3,264.7L689.3,264.0L689.3,263.3L689.3,262.6L689.2,261.8L689.2,261.1L689.2,260.4L689.2,259.7L689.1,259.0L689.1,258.3L689.1,257.6L689.1,257.6M690.8,283.2L690.8,283.2L690.7,282.5L690.6,281.8L690.6,281.0L690.5,280.3L690.4,279.5L690.3,278.7L690.2,278.0L690.1,277.2L690.0,276.4L689.9,275.7L689.9,274.9L689.8,274.2L689.8,274.2M693.6,299.3L693.6,299.3L693.3,298.7L693.1,298.0L692.9,297.3L692.7,296.6L692.5,295.9L692.3,295.2L692.1,294.4L691.9,293.7L691.8,293.0L691.7,292.3L691.5,291.6L691.4,290.9L691.4,290.9M701.7,314.2L701.7,314.2L701.4,313.5L701.1,312.9L700.8,312.2L700.4,311.5L700.1,310.8L699.7,310.1L699.4,309.4L699.0,308.7L698.7,308.0L698.3,307.4L697.9,306.7L697.6,306.1L697.6,306.1M706.3,328.6L706.3,328.6L706.1,328.1L706.0,327.6L705.8,327.0L705.6,326.5L705.5,325.9L705.3,325.3L705.1,324.7L704.9,324.1L704.8,323.5L704.6,322.9L704.4,322.3L704.2,321.7L704.2,321.7M738.5,107.7L739.0,106.0L739.8,103.5L740.4,101.4L740.9,99.7L740.9,99.7M733.6,123.9L733.7,123.8L734.5,120.9L735.4,117.9L736.3,114.9M728.7,139.9L728.7,139.9L729.0,139.1L729.2,138.4L729.4,137.9L729.5,137.4L729.7,137.0L729.8,136.6L729.9,136.2L730.1,135.7L730.3,135.0L730.5,134.3L730.8,133.3L731.2,132.1L731.5,130.9M724.0,158.1L724.1,157.2L724.3,156.1L724.4,155.0L724.6,153.9L724.8,152.8L725.0,151.8L725.2,150.7L725.4,149.7L725.6,148.8L725.6,148.7M720.9,169.8L720.9,169.8L721.1,169.1L721.3,168.5L721.5,167.8L721.8,167.1L722.0,166.4L722.2,165.8L722.4,165.0L722.6,164.3L722.8,163.6L723.0,162.8L723.2,162.0L723.4,161.1L723.4,161.1M710.8,180.3C711.3,180.2 712.9,179.6 713.8,179.5C714.7,179.4 715.3,180.3 716.0,179.9C716.7,179.5 717.8,177.7 718.2,177.3M720.8,156.5C720.2,156.5 718.4,156.2 717.0,156.7C715.6,157.2 714.0,157.9 712.5,159.3C711.0,160.7 708.8,164.0 708.0,164.9M719.3,164.4C718.8,164.2 717.3,163.4 716.3,163.4C715.3,163.4 714.3,163.8 713.4,164.2C712.5,164.6 711.4,165.7 711.0,166.0"/>
<path d="M725.6,149.0L725.6,148.8L725.8,147.9L726.1,147.0L726.4,146.2L726.6,145.5M705.1,171.6C704.6,172.1 702.4,174.3 701.9,174.8" stroke-width="2.1"/>
<path d="M728.1,442.5C727.8,440.4 726.8,435.0 726.4,429.7C726.0,424.4 725.9,417.6 725.8,410.7C725.7,403.8 725.9,395.4 725.9,388.6C725.9,381.8 726.1,374.8 725.9,369.8C725.7,364.8 725.4,361.9 724.7,358.6C724.0,355.3 722.9,352.4 721.6,349.9C720.4,347.4 718.9,345.7 717.2,343.7C715.5,341.7 713.1,339.8 711.6,338.1C710.1,336.4 708.8,335.7 708.1,333.6C707.4,331.5 707.5,328.8 707.3,325.7C707.1,322.6 706.8,318.4 706.9,315.2C707.0,311.9 707.4,308.3 707.9,306.2C708.4,304.1 709.0,304.1 710.1,302.6C711.2,301.1 713.5,299.5 714.4,297.4C715.3,295.3 715.2,293.0 715.5,289.9C715.8,286.8 715.9,283.6 716.3,278.7C716.7,273.8 717.5,266.7 718.1,260.7C718.7,254.7 719.3,247.4 719.9,242.7C720.5,238.0 720.6,237.9 721.7,232.4C722.8,226.9 724.9,216.8 726.5,209.5C728.1,202.2 729.6,197.0 731.6,188.7C733.6,180.4 736.6,167.2 738.4,159.9C740.1,152.6 740.9,149.8 742.1,144.7C743.4,139.6 745.3,131.9 745.9,129.3"/>
<path d="M717.6,344.2L717.6,344.2L717.2,343.7L716.8,343.2L716.3,342.7L715.8,342.2L715.3,341.7L714.8,341.3L714.3,340.8L713.8,340.3L713.4,339.9L712.9,339.4L712.4,339.0L712.0,338.5L711.6,338.1L711.2,337.7L710.9,337.3L710.5,337.0L710.2,336.6L709.9,336.3L709.7,336.2" stroke-width="1.9"/>
<path d="M718.3,232.4C719.2,228.6 722.0,216.8 724.0,209.5C726.0,202.2 727.7,197.0 730.0,188.7C732.3,180.4 735.2,169.8 737.8,159.9C740.5,150.0 744.5,134.4 745.9,129.3 M719.0,232.4C720.0,228.6 722.8,216.8 724.7,209.5C726.6,202.2 728.4,197.0 730.6,188.7C732.9,180.4 735.7,169.8 738.2,159.9C740.8,150.0 744.6,134.4 745.9,129.3" stroke-width="1.2"/>
<circle cx="708.1" cy="333.7" r="7.9" stroke-width="1.3"/>
<circle cx="708.1" cy="333.7" r="3.9" fill="#ff0000" stroke="none"/>
</g>
</g>
<path d="M525.0,183.6 L755.0,241.4" stroke="#000" stroke-width="1.5" fill="none"/>
<rect x="521.3" y="179.9" width="7.4" height="7.4" fill="#000"/>
<rect x="598.0" y="199.1" width="7.4" height="7.4" fill="#000"/>
<text x="601.7" y="192.1" font-size="13" fill="#444" text-anchor="middle">1</text>
<rect x="674.6" y="218.4" width="7.4" height="7.4" fill="#000"/>
<text x="678.3" y="211.4" font-size="13" fill="#444" text-anchor="middle">2</text>
<rect x="751.3" y="237.7" width="7.4" height="7.4" fill="#000"/>
<text x="755.0" y="230.7" font-size="13" fill="#444" text-anchor="middle">3</text>
<text y="172.9" font-size="13" fill="#333"><tspan class="it" font-size="14" x="496.7">A</tspan><tspan class="it" font-size="10.5" x="505.1" dy="4.6">K</tspan></text>
<text transform="translate(513.1,172.9) scale(1.3,1)" font-size="13" fill="#333">=</text>
<text transform="translate(523.0,172.9) scale(1.15,1)" font-size="13" fill="#333">0</text>
<text x="511.4" y="205.8" font-size="12" fill="#5c5c5c">RC</text>
<rect x="474.7" y="1.3" width="337.3" height="442.4" fill="none" stroke="#363636" stroke-width="1.35"/>
<path d="M482.01,1.3v5.6M482.01,443.7v-5.6M501.00,1.3v11.6M501.00,443.7v-11.6M519.99,1.3v5.6M519.99,443.7v-5.6M538.97,1.3v5.6M538.97,443.7v-5.6M557.96,1.3v5.6M557.96,443.7v-5.6M576.94,1.3v11.6M576.94,443.7v-11.6M595.92,1.3v5.6M595.92,443.7v-5.6M614.91,1.3v5.6M614.91,443.7v-5.6M633.89,1.3v5.6M633.89,443.7v-5.6M652.88,1.3v11.6M652.88,443.7v-11.6M671.87,1.3v5.6M671.87,443.7v-5.6M690.85,1.3v5.6M690.85,443.7v-5.6M709.84,1.3v5.6M709.84,443.7v-5.6M728.82,1.3v11.6M728.82,443.7v-11.6M747.81,1.3v5.6M747.81,443.7v-5.6M766.79,1.3v5.6M766.79,443.7v-5.6M785.77,1.3v5.6M785.77,443.7v-5.6M804.76,1.3v11.6M804.76,443.7v-11.6M474.7,10.32h6.2M812.0,10.32h-6.2M474.7,29.60h12.5M812.0,29.60h-12.5M474.7,48.88h6.2M812.0,48.88h-6.2M474.7,68.16h6.2M812.0,68.16h-6.2M474.7,87.44h6.2M812.0,87.44h-6.2M474.7,106.72h6.2M812.0,106.72h-6.2M474.7,126.00h12.5M812.0,126.00h-12.5M474.7,145.28h6.2M812.0,145.28h-6.2M474.7,164.56h6.2M812.0,164.56h-6.2M474.7,183.84h6.2M812.0,183.84h-6.2M474.7,203.12h6.2M812.0,203.12h-6.2M474.7,222.40h12.5M812.0,222.40h-12.5M474.7,241.68h6.2M812.0,241.68h-6.2M474.7,260.96h6.2M812.0,260.96h-6.2M474.7,280.24h6.2M812.0,280.24h-6.2M474.7,299.52h6.2M812.0,299.52h-6.2M474.7,318.80h12.5M812.0,318.80h-12.5M474.7,338.08h6.2M812.0,338.08h-6.2M474.7,357.36h6.2M812.0,357.36h-6.2M474.7,376.64h6.2M812.0,376.64h-6.2M474.7,395.92h6.2M812.0,395.92h-6.2M474.7,415.20h12.5M812.0,415.20h-12.5M474.7,434.48h6.2M812.0,434.48h-6.2" stroke="#444" stroke-width="0.9" fill="none"/>
<text transform="translate(501.0,460.8) scale(1.1,1)" font-size="13" fill="#505050" text-anchor="middle">0</text>
<text transform="translate(576.9,460.8) scale(1.1,1)" font-size="13" fill="#505050" text-anchor="middle">2</text>
<text transform="translate(652.9,460.8) scale(1.1,1)" font-size="13" fill="#505050" text-anchor="middle">4</text>
<text transform="translate(728.8,460.8) scale(1.1,1)" font-size="13" fill="#505050" text-anchor="middle">6</text>
<text transform="translate(804.8,460.8) scale(1.1,1)" font-size="13" fill="#505050" text-anchor="middle">8</text>
<text transform="translate(471.1,29.8) scale(1.1,1)" font-size="13" fill="#505050" text-anchor="end">5</text>
<text transform="translate(471.1,126.2) scale(1.1,1)" font-size="13" fill="#505050" text-anchor="end">10</text>
<text transform="translate(471.1,222.6) scale(1.1,1)" font-size="13" fill="#505050" text-anchor="end">15</text>
<text transform="translate(471.1,319.0) scale(1.1,1)" font-size="13" fill="#505050" text-anchor="end">20</text>
<text transform="translate(471.1,415.4) scale(1.1,1)" font-size="13" fill="#505050" text-anchor="end">25</text>
<text y="476.8" font-size="13.5" fill="#333"><tspan class="it" font-size="14.5" x="606.6">J</tspan><tspan x="614.0">−</tspan><tspan class="it" font-size="14.5" x="623.0">K</tspan><tspan font-size="15.2" x="640.5">[</tspan><tspan x="648.1" textLength="25.7" lengthAdjust="spacing">mag</tspan><tspan font-size="15.2" x="675.3">]</tspan></text>
<text transform="translate(433.8,222.6) rotate(-90)" font-size="13.5" fill="#333"><tspan class="it" font-size="14.5" x="-27.0">K</tspan><tspan font-size="15.2" x="-11.4">[</tspan><tspan x="-3.7" textLength="25.9" lengthAdjust="spacing">mag</tspan><tspan font-size="15.2" x="23.8">]</tspan></text>
<text x="146.5" y="86.4" font-size="13.5" fill="#0000ff" stroke="#0000ff" stroke-width="0.18"><tspan class="it" font-size="14">A</tspan><tspan class="it" font-size="10.5" dx="0.7" dy="4.8">K</tspan><tspan dy="-4.8" dx="0.7" letter-spacing="1.05">=0.5</tspan></text>
<text x="223.3" y="144.6" font-size="13.5" fill="#00ff00" stroke="#00ff00" stroke-width="0.18"><tspan class="it" font-size="14">A</tspan><tspan class="it" font-size="10.5" dx="0.7" dy="4.8">K</tspan><tspan dy="-4.8" dx="0.7" letter-spacing="1.05">=1.5</tspan></text>
<text x="300.1" y="203.0" font-size="13.5" fill="#ff0000" stroke="#ff0000" stroke-width="0.18"><tspan class="it" font-size="14">A</tspan><tspan class="it" font-size="10.5" dx="0.7" dy="4.8">K</tspan><tspan dy="-4.8" dx="0.7" letter-spacing="1.05">=2.5</tspan></text>
<text x="569.5" y="42.0" font-size="13.5" fill="#0000ff" stroke="#0000ff" stroke-width="0.18"><tspan class="it" font-size="14">A</tspan><tspan class="it" font-size="10.5" dx="0.7" dy="4.8">K</tspan><tspan dy="-4.8" dx="0.7" letter-spacing="1.05">=0.5</tspan></text>
<text x="646.3" y="61.5" font-size="13.5" fill="#00ff00" stroke="#00ff00" stroke-width="0.18"><tspan class="it" font-size="14">A</tspan><tspan class="it" font-size="10.5" dx="0.7" dy="4.8">K</tspan><tspan dy="-4.8" dx="0.7" letter-spacing="1.05">=1.5</tspan></text>
<text x="723.1" y="81.0" font-size="13.5" fill="#ff0000" stroke="#ff0000" stroke-width="0.18"><tspan class="it" font-size="14">A</tspan><tspan class="it" font-size="10.5" dx="0.7" dy="4.8">K</tspan><tspan dy="-4.8" dx="0.7" letter-spacing="1.05">=2.5</tspan></text>
<path d="M260.8,36.5H302.4" stroke="#111" stroke-width="1.1" stroke-dasharray="8.3 8.2" fill="none"/>
<path d="M260.8,67.5H302.4" stroke="#111" stroke-width="1.1" fill="none"/>
<text x="310.6" y="41.6" font-size="13" fill="#222" letter-spacing="0.1">100Myr</text>
<text x="310.6" y="72.4" font-size="13" fill="#222" letter-spacing="0.1">10Gyr</text>
</svg></body></html>
